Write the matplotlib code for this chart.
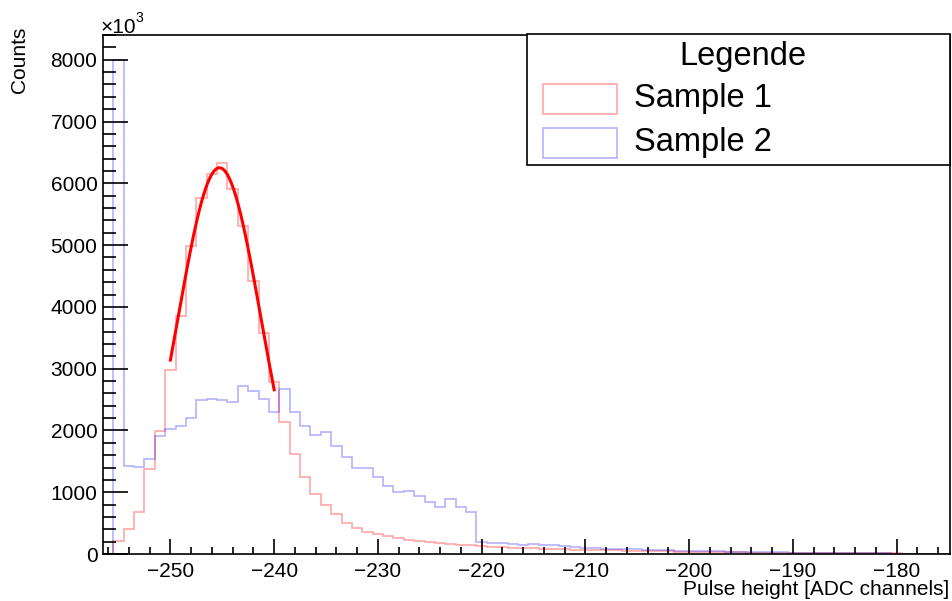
import matplotlib
matplotlib.use("Agg")
import matplotlib.pyplot as plt
import numpy as np
from matplotlib.patches import Rectangle
from matplotlib.ticker import MultipleLocator

plt.rcParams['font.family'] = ['Liberation Sans', 'DejaVu Sans']

# bin centres -256 ... -175 (1 ADC channel per bin)
bin_centers = np.arange(-256, -174)

sample1 = [
    0, 215, 405, 675, 1376, 1987, 2980, 3860, 4988, 5760,
    6149, 6327, 5906, 5312, 4421, 3584, 2790, 2130, 1614, 1242,
    972, 794, 652, 500, 426, 361, 319, 287, 254, 227,
    206, 194, 173, 162, 151, 140, 130, 118, 112, 105,
    98, 92, 87, 82, 77, 72, 68, 64, 60, 57,
    53, 50, 47, 44, 41, 39, 36, 34, 32, 30,
    28, 26, 24, 23, 21, 20, 18, 17, 16, 15,
    14, 13, 12, 11, 10, 10, 9, 8, 8, 7,
    7, 6,
]

sample2 = [
    0, 8000, 1430, 1404, 1543, 1916, 2019, 2073, 2197, 2494,
    2510, 2494, 2467, 2721, 2645, 2505, 2300, 2667, 2305, 2078,
    1927, 1971, 1752, 1576, 1398, 1398, 1252, 1106, 1009, 1025,
    944, 847, 766, 886, 766, 685, 189, 183, 170, 160,
    150, 157, 150, 140, 130, 120, 95, 92, 88, 86,
    80, 76, 70, 64, 60, 56, 52, 48, 45, 42,
    40, 37, 34, 32, 38, 40, 22, 20, 18, 17,
    15, 14, 12, 11, 10, 9, 8, 7, 6, 6,
    5, 5,
]

# gaussian fit to sample 1
fit_const = 6251
fit_mean = -245.27
fit_sigma = 4.03
fit_range = (-250, -240)

W, H = 952, 601
FS = 15


def fig_xy(x, y):
    """pixel position (from top left) -> figure fraction"""
    return x / W, 1 - y / H


def main():
    fig = plt.figure(figsize=(W / 100, H / 100), dpi=100)
    ax = fig.add_axes([103 / W, 47 / H, 847 / W, 519 / H])

    edges = np.append(bin_centers - 0.5, bin_centers[-1] + 0.5)
    ax.stairs(sample1, edges, color='red', alpha=0.35, linewidth=1.2, baseline=0)
    ax.stairs(sample2, edges, color='blue', alpha=0.3, linewidth=1.2, baseline=0)

    xs = np.linspace(fit_range[0], fit_range[1], 200)
    ax.plot(xs, fit_const * np.exp(-0.5 * ((xs - fit_mean) / fit_sigma) ** 2),
            color='red', linewidth=2.2)

    ax.set_xlim(-256.5, -174.85)
    ax.set_ylim(0, 8400)

    ax.xaxis.set_major_locator(MultipleLocator(10))
    ax.xaxis.set_minor_locator(MultipleLocator(2))
    ax.yaxis.set_major_locator(MultipleLocator(1000))
    ax.yaxis.set_minor_locator(MultipleLocator(200))
    ax.tick_params(axis='x', which='major', direction='in', length=11, width=1.2,
                   labelsize=FS, pad=6)
    ax.tick_params(axis='x', which='minor', direction='in', length=5, width=1.2)
    ax.tick_params(axis='y', which='major', direction='in', length=18, width=1.2,
                   labelsize=FS, pad=4)
    ax.tick_params(axis='y', which='minor', direction='in', length=9, width=1.2)
    for s in ax.spines.values():
        s.set_linewidth(1.2)

    fig.text(*fig_xy(949, 595), 'Pulse height [ADC channels]', ha='right',
             va='baseline', fontsize=FS)
    fig.text(*fig_xy(19, 27), 'Counts', rotation=90, ha='center', va='top',
             fontsize=FS)
    fig.text(*fig_xy(101, 33), '×10', ha='left', va='baseline', fontsize=FS)
    fig.text(*fig_xy(135, 22), '3', ha='left', va='baseline', fontsize=10)

    # legend box
    x0, y0 = fig_xy(527, 165)
    fig.add_artist(Rectangle((x0, y0), 423 / W, 131 / H, transform=fig.transFigure,
                             facecolor='white', edgecolor='black', linewidth=1.2,
                             zorder=5))
    fig.text(*fig_xy(743, 56), 'Legende', ha='center', va='center', fontsize=23.5,
             zorder=6)
    for name, color, yc, a in [('Sample 1', 'red', 99, 0.35), ('Sample 2', 'blue', 143, 0.3)]:
        bx, by = fig_xy(543, yc + 15)
        fig.add_artist(Rectangle((bx, by), 74 / W, 30 / H, transform=fig.transFigure,
                                 facecolor='none', edgecolor=color, alpha=a,
                                 linewidth=1.2, zorder=6))
        fig.text(*fig_xy(634, yc), name, ha='left', va='center', fontsize=23.5,
                 zorder=6)

    fig.savefig('out.png', dpi=100)


if __name__ == "__main__":
    main()
